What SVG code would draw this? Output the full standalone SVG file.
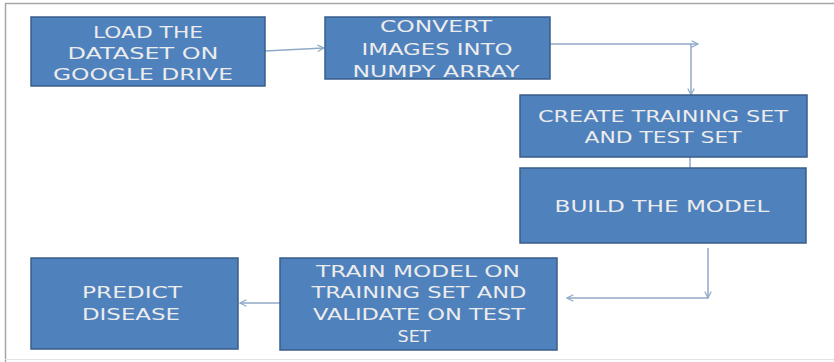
<svg xmlns="http://www.w3.org/2000/svg" width="834" height="362" viewBox="0 0 834 362">
<style>
.box{fill:#4F81BD;stroke:#385D8A;stroke-width:1.5}
.t{font-family:"DejaVu Sans","Liberation Sans",sans-serif;font-size:16px;fill:#ECECEC;text-anchor:middle}
.c{fill:none;stroke:#8FA9C8;stroke-width:1.5}
</style>
<defs>
<marker id="ah" viewBox="0 0 10 10" refX="9" refY="5" markerWidth="8" markerHeight="8" orient="auto" markerUnits="userSpaceOnUse">
<path d="M1,1 L9,5 L1,9" fill="none" stroke="#8FA9C8" stroke-width="1.5"/>
</marker>
</defs>
<rect x="0" y="0" width="834" height="362" fill="#FFFFFF"/>
<g id="frame">
<line x1="5" y1="3.5" x2="834" y2="3.5" stroke="#A6A6A6" stroke-width="1.5"/>
<line x1="5.5" y1="3" x2="5.5" y2="362" stroke="#A6A6A6" stroke-width="1.5"/>
<line x1="5" y1="359.5" x2="834" y2="359.5" stroke="#E4E4E4" stroke-width="1"/>
</g>
<g id="connectors">
<path class="c" d="M265,51 L324,48" marker-end="url(#ah)"/>
<path class="c" d="M550,44 H698" marker-end="url(#ah)"/>
<path class="c" d="M691,44 V95" marker-end="url(#ah)"/>
<path class="c" d="M690,157 V168"/>
<path class="c" d="M708,248 V298" marker-end="url(#ah)"/>
<path class="c" d="M708,298 H567" marker-end="url(#ah)"/>
<path class="c" d="M280,303 H240" marker-end="url(#ah)"/>
</g>
<g id="load">
<rect class="box" x="31" y="17" width="234" height="69"/>
<text class="t" x="148" y="38" textLength="110" lengthAdjust="spacingAndGlyphs">LOAD THE</text>
<text class="t" x="143" y="59" textLength="151" lengthAdjust="spacingAndGlyphs">DATASET ON</text>
<text class="t" x="143" y="80" textLength="180" lengthAdjust="spacingAndGlyphs">GOOGLE DRIVE</text>
</g>
<g id="convert">
<rect class="box" x="325" y="17" width="225" height="62"/>
<text class="t" x="436" y="32" textLength="112" lengthAdjust="spacingAndGlyphs">CONVERT</text>
<text class="t" x="437" y="55" textLength="151" lengthAdjust="spacingAndGlyphs">IMAGES INTO</text>
<text class="t" x="436" y="77" textLength="167" lengthAdjust="spacingAndGlyphs">NUMPY ARRAY</text>
</g>
<g id="create">
<rect class="box" x="520" y="95" width="287" height="62"/>
<text class="t" x="663" y="122" textLength="250" lengthAdjust="spacingAndGlyphs">CREATE TRAINING SET</text>
<text class="t" x="663" y="143" textLength="157" lengthAdjust="spacingAndGlyphs">AND TEST SET</text>
</g>
<g id="build">
<rect class="box" x="520" y="168" width="286" height="75"/>
<text class="t" x="662" y="212" textLength="215" lengthAdjust="spacingAndGlyphs">BUILD THE MODEL</text>
</g>
<g id="train">
<rect class="box" x="280" y="258" width="277" height="92"/>
<text class="t" x="418" y="277" textLength="204" lengthAdjust="spacingAndGlyphs">TRAIN MODEL ON</text>
<text class="t" x="419" y="298" textLength="215" lengthAdjust="spacingAndGlyphs">TRAINING SET AND</text>
<text class="t" x="419" y="320" textLength="212" lengthAdjust="spacingAndGlyphs">VALIDATE ON TEST</text>
<text class="t" x="414" y="342" textLength="33" lengthAdjust="spacingAndGlyphs">SET</text>
</g>
<g id="predict">
<rect class="box" x="31" y="258" width="207" height="91"/>
<text class="t" x="132" y="298" textLength="100" lengthAdjust="spacingAndGlyphs">PREDICT</text>
<text class="t" x="131" y="320" textLength="98" lengthAdjust="spacingAndGlyphs">DISEASE</text>
</g>
</svg>
